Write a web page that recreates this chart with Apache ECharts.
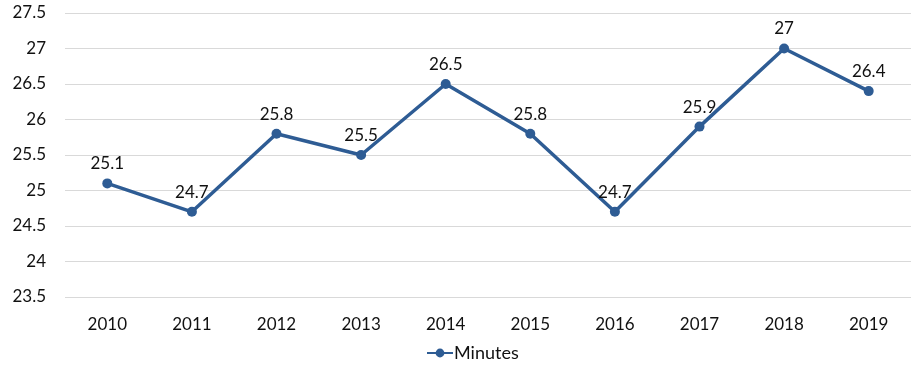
<!DOCTYPE html>
<html>
<head>
<meta charset="utf-8">
<script src="https://cdn.jsdelivr.net/npm/echarts@6/dist/echarts.min.js"></script>
<style>
  html, body { margin: 0; padding: 0; background: #fff; }
  #chart { width: 911px; height: 368px; }
</style>
</head>
<body>
<div id="chart"></div>
<script>
// Yearly values
const years = ['2010', '2011', '2012', '2013', '2014', '2015', '2016', '2017', '2018', '2019'];
const minutes = [25.1, 24.7, 25.8, 25.5, 26.5, 25.8, 24.7, 25.9, 27, 26.4];
const seriesName = 'Minutes';

const font = 'Lato, "Open Sans", sans-serif';
const lineColor = '#2E5C94';
const textColor = '#111111';

const chart = echarts.init(document.getElementById('chart'));
chart.setOption({
  animation: false,
  grid: { left: 65, top: 13, width: 853, height: 284, containLabel: false },
  legend: {
    bottom: 1,
    left: 421,
    data: [seriesName],
    itemWidth: 26,
    itemHeight: 11,
    textStyle: { fontFamily: font, fontSize: 18, color: textColor, padding: [0, 0, 0, -4] }
  },
  xAxis: {
    type: 'category',
    data: years,
    boundaryGap: true,
    axisLine: { show: false },
    axisTick: { show: false },
    axisLabel: { fontFamily: font, fontSize: 17, color: textColor, margin: 19 }
  },
  yAxis: {
    type: 'value',
    min: 23.5,
    max: 27.5,
    interval: 0.5,
    axisLine: { show: false },
    axisTick: { show: false },
    splitLine: { lineStyle: { color: '#d9d9d9', width: 1 } },
    axisLabel: { fontFamily: font, fontSize: 17, color: textColor, margin: 19 }
  },
  series: [{
    name: seriesName,
    type: 'line',
    data: minutes,
    symbol: 'circle',
    symbolSize: 10,
    lineStyle: { color: lineColor, width: 3.5 },
    itemStyle: { color: lineColor },
    label: {
      show: true,
      position: 'top',
      distance: 6,
      fontFamily: font,
      fontSize: 17,
      color: textColor
    }
  }]
});
</script>
</body>
</html>
